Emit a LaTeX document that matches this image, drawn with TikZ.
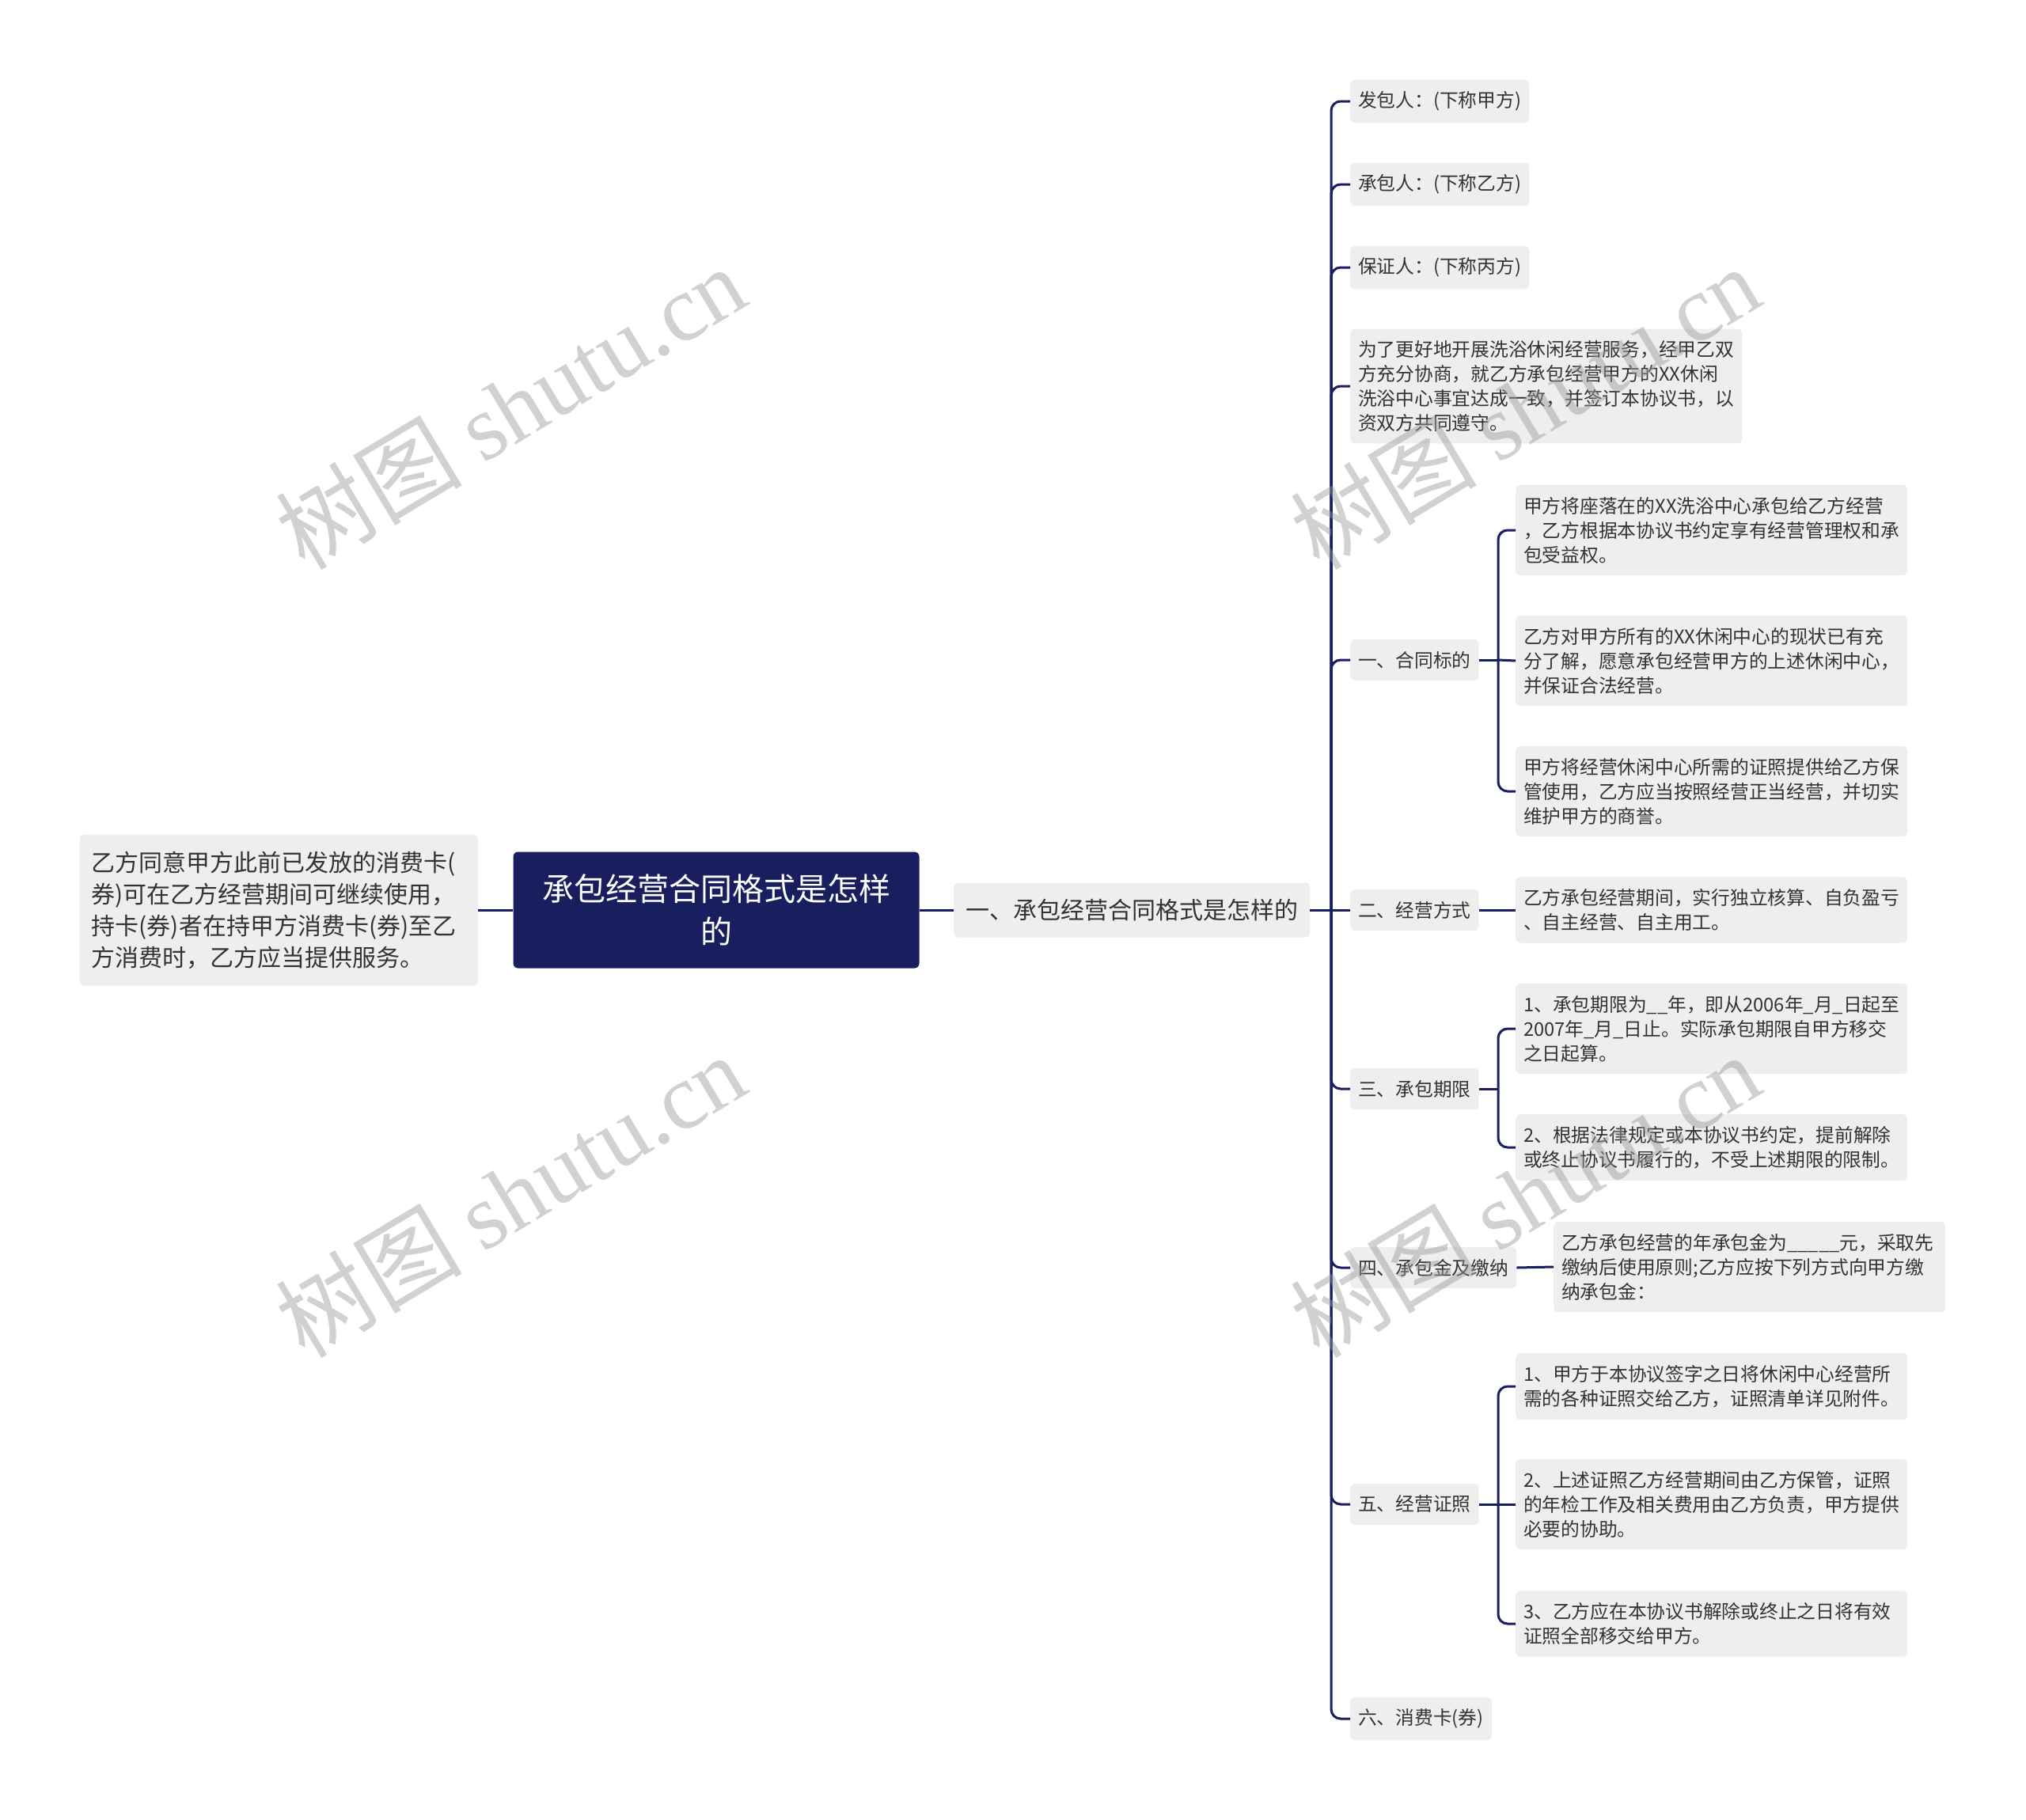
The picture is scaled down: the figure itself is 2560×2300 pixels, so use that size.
\documentclass[tikz,border=0pt]{standalone}
\usepackage{fontspec}
\setmainfont{Noto Sans CJK SC}
\newfontfamily\wmserif{Liberation Serif}
\usepackage{tikz}
\definecolor{navy}{RGB}{24,30,94}
\definecolor{boxgray}{RGB}{238,238,238}
\definecolor{inkgray}{RGB}{51,51,51}

\begin{document}
\begin{tikzpicture}[x=1pt, y=-1pt,
    root/.style={rectangle, rounded corners=6, fill=navy, text=white, font=\fontsize{40}{54}\selectfont, align=center, minimum width=513pt, minimum height=147pt, inner sep=0pt},
    topic/.style={rectangle, rounded corners=6, fill=boxgray, text=inkgray, font=\fontsize{30}{40}\selectfont, inner xsep=15pt, inner ysep=0pt, minimum height=69pt, anchor=west},
    note/.style={rectangle, rounded corners=6, fill=boxgray, text=inkgray, font=\fontsize{30}{40}\selectfont, align=left, text width=473pt, inner xsep=15pt, inner ysep=0pt, minimum height=191pt, anchor=east},
    sub/.style={rectangle, rounded corners=6, fill=boxgray, text=inkgray, font=\fontsize{23.75}{31}\selectfont, align=left, inner xsep=10pt, inner ysep=15pt, minimum height=52pt, anchor=west},
    leaf/.style={sub, text width=475pt},
    link/.style={draw=navy, line width=3pt, rounded corners=12pt},
    wmark/.style={text=black!40, opacity=0.45, font=\fontsize{118}{118}\selectfont, inner sep=0pt, rotate=31}]
    \fill[white] (0,0) rectangle (2560,2300);
    \useasboundingbox (0,0) rectangle (2560,2300);
    % nodes
    \node[root] (root) at (905,1150) {承包经营合同格式是怎样\\的};
    \node[note] (card) at (604,1150) {乙方同意甲方此前已发放的消费卡(\\券)可在乙方经营期间可继续使用，\\持卡(券)者在持甲方消费卡(券)至乙\\方消费时，乙方应当提供服务。};
    \node[topic] (l1) at (1205,1150) {一、承包经营合同格式是怎样的};
    \node[sub] (c1) at (1706,128) {发包人：(下称甲方)};
    \node[sub] (c2) at (1706,233) {承包人：(下称乙方)};
    \node[sub] (c3) at (1706,338) {保证人：(下称丙方)};
    \node[leaf] (c4) at (1706,488) {为了更好地开展洗浴休闲经营服务，经甲乙双\\方充分协商，就乙方承包经营甲方的XX休闲\\洗浴中心事宜达成一致，并签订本协议书，以\\资双方共同遵守。};
    \node[sub] (c5) at (1706,834) {一、合同标的};
    \node[sub] (c6) at (1706,1150) {二、经营方式};
    \node[sub] (c7) at (1706,1376) {三、承包期限};
    \node[sub] (c8) at (1706,1602) {四、承包金及缴纳};
    \node[sub] (c9) at (1706,1901) {五、经营证照};
    \node[sub] (c10) at (1706,2172) {六、消费卡(券)};
    \node[leaf] (g1) at (1915,670) {甲方将座落在的XX洗浴中心承包给乙方经营\\，乙方根据本协议书约定享有经营管理权和承\\包受益权。};
    \node[leaf] (g2) at (1915,835) {乙方对甲方所有的XX休闲中心的现状已有充\\分了解，愿意承包经营甲方的上述休闲中心，\\并保证合法经营。};
    \node[leaf] (g3) at (1915,1000) {甲方将经营休闲中心所需的证照提供给乙方保\\管使用，乙方应当按照经营正当经营，并切实\\维护甲方的商誉。};
    \node[leaf] (g4) at (1915,1150) {乙方承包经营期间，实行独立核算、自负盈亏\\、自主经营、自主用工。};
    \node[leaf] (g5) at (1915,1300) {1、承包期限为\_\_年，即从2006年\_月\_日起至\\2007年\_月\_日止。实际承包期限自甲方移交\\之日起算。};
    \node[leaf] (g6) at (1915,1450) {2、根据法律规定或本协议书约定，提前解除\\或终止协议书履行的，不受上述期限的限制。};
    \node[leaf] (g7) at (1963,1601) {乙方承包经营的年承包金为\_\_\_\_\_元，采取先\\缴纳后使用原则;乙方应按下列方式向甲方缴\\纳承包金：};
    \node[leaf] (g8) at (1915,1752) {1、甲方于本协议签字之日将休闲中心经营所\\需的各种证照交给乙方，证照清单详见附件。};
    \node[leaf] (g9) at (1915,1901) {2、上述证照乙方经营期间由乙方保管，证照\\的年检工作及相关费用由乙方负责，甲方提供\\必要的协助。};
    \node[leaf] (g10) at (1915,2052) {3、乙方应在本协议书解除或终止之日将有效\\证照全部移交给甲方。};
    % junctions
    \coordinate (j1) at (1682,1150);
    \coordinate (j5) at (1893,834);
    \coordinate (j7) at (1893,1376);
    \coordinate (j9) at (1893,1901);
    % edges
    \draw[link] (card.east) -- (root.west);
    \draw[link] (root.east) -- (l1.west);
    \draw[link] (l1.east) -- (j1);
    \draw[link] (j1) |- (c1.west);
    \draw[link] (j1) |- (c2.west);
    \draw[link] (j1) |- (c3.west);
    \draw[link] (j1) |- (c4.west);
    \draw[link] (j1) |- (c5.west);
    \draw[link] (j1) -- (c6.west);
    \draw[link] (j1) |- (c7.west);
    \draw[link] (j1) |- (c8.west);
    \draw[link] (j1) |- (c9.west);
    \draw[link] (j1) |- (c10.west);
    \draw[link] (c5.east) -- (j5);
    \draw[link] (j5) |- (g1.west);
    \draw[link] (j5) -- (g2.west);
    \draw[link] (j5) |- (g3.west);
    \draw[link] (c6.east) -- (g4.west);
    \draw[link] (c7.east) -- (j7);
    \draw[link] (j7) |- (g5.west);
    \draw[link] (j7) |- (g6.west);
    \draw[link] (c8.east) -- (g7.west);
    \draw[link] (c9.east) -- (j9);
    \draw[link] (j9) |- (g8.west);
    \draw[link] (j9) -- (g9.west);
    \draw[link] (j9) |- (g10.west);
    % watermarks
    \node[wmark] (w1) at (645,514) {树图 {\wmserif shutu.cn}};
    \node[wmark] (w2) at (1927,514) {树图 {\wmserif shutu.cn}};
    \node[wmark] (w3) at (645,1510) {树图 {\wmserif shutu.cn}};
    \node[wmark] (w4) at (1927,1510) {树图 {\wmserif shutu.cn}};
\end{tikzpicture}
\end{document}
